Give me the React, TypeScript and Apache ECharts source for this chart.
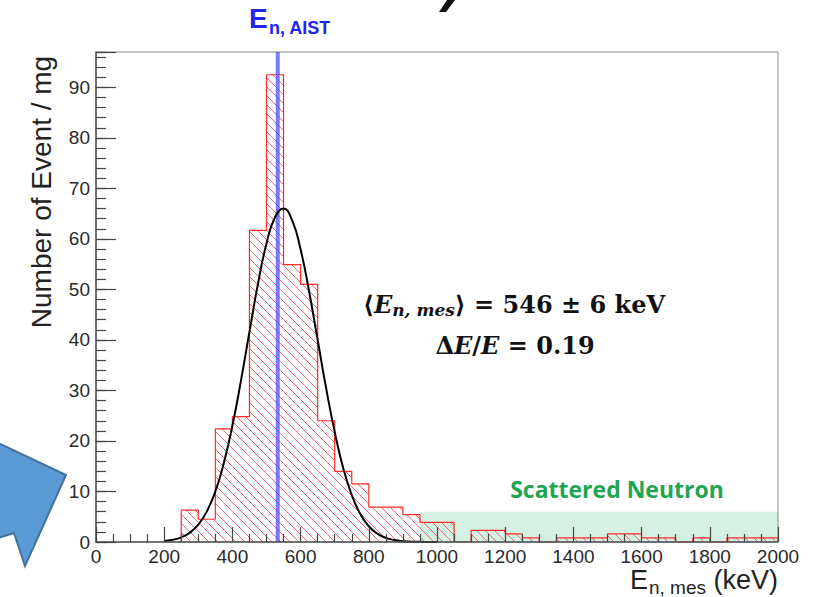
import React, { useEffect, useRef } from "react";
import * as echarts from "echarts";

// Histogram: left edges of 50 keV bins and counts per mg
const binLeftEdges = [
  250, 300, 350, 400, 450, 500, 550, 600, 650, 700, 750, 800, 850, 900, 950,
  1000, 1050, 1100, 1150, 1200, 1250, 1300, 1350, 1400, 1450, 1500, 1550,
  1600, 1650, 1700, 1750, 1800, 1850, 1900, 1950,
];
const binWidth = 50;
const binCounts = [
  6.3, 4.5, 22.4, 24.8, 61.7, 92.5, 54.9, 51.0, 24.0, 14.0, 11.5, 6.9, 6.9,
  5.4, 3.9, 3.9, 0, 2.3, 2.3, 1.6, 0.8, 0, 0.8, 0.8, 0.8, 1.6, 1.6, 0.8, 0.8,
  0, 0.8, 0, 0.8, 0.8, 0.8,
];

// Gaussian fit curve
const fitEnergy = [
  200, 225, 250, 275, 300, 325, 350, 375, 400, 425, 450, 475, 500, 525, 550,
  575, 600, 625, 650, 675, 700, 725, 750, 775, 800, 825, 850, 875, 900, 925,
  950, 975, 1000,
];
const fitValue = [
  0.2, 0.44, 0.93, 1.84, 3.43, 6.04, 10.0, 15.7, 23.0, 31.9, 41.6, 51.1, 59.1,
  64.3, 66.0, 63.7, 57.9, 49.6, 40.0, 30.4, 21.8, 14.6, 9.3, 5.55, 3.12, 1.65,
  0.82, 0.39, 0.17, 0.07, 0.03, 0.01, 0.0,
];

// Reference energy (AIST) and scattered-neutron band
const aistEnergy = 533;
const scatterBandX = [950, 2000];
const scatterBandTop = 6;

// Axes
const xRange = [0, 2000];
const yRange = [0, 97];

export default function App() {
  const ref = useRef<HTMLDivElement>(null);
  useEffect(() => {
    if (!ref.current) return;
    const chart = echarts.init(ref.current, null, { renderer: "svg" });
    const histData = binLeftEdges.map((s, i) => [s, s + binWidth, binCounts[i]]);
    const stepData: number[][] = [[binLeftEdges[0], 0]];
    binLeftEdges.forEach((s, i) => stepData.push([s, binCounts[i]]));
    stepData.push([binLeftEdges[binLeftEdges.length - 1] + binWidth, 0]);

    const sans = "Liberation Sans, Arial, Helvetica, sans-serif";
    const serif = "DejaVu Serif, Liberation Serif, serif";

    const option: any = {
      animation: false,
      grid: {
        left: 96,
        right: 45,
        top: 52,
        bottom: 55,
        show: true,
        borderColor: "#8a8a8a",
        borderWidth: 1,
        backgroundColor: "transparent",
      },
      xAxis: {
        type: "value",
        min: xRange[0],
        max: xRange[1],
        interval: 200,
        z: 10,
        axisLine: { show: true, lineStyle: { color: "#555", width: 1.5 } },
        axisTick: { show: true, inside: true, length: 15, lineStyle: { color: "#444", width: 1.2 } },
        minorTick: { show: true, splitNumber: 4, length: 8, lineStyle: { color: "#444", width: 1.2 } },
        splitLine: { show: false },
        axisLabel: {
          fontSize: 19,
          color: "#2a2a2a",
          fontFamily: sans,
          margin: 5,
          formatter: (v: number) => String(v),
        },
      },
      yAxis: [
        {
          type: "value",
          min: yRange[0],
          max: yRange[1],
          interval: 10,
          offset: 0,
          z: 10,
          axisLine: { show: true, lineStyle: { color: "#555", width: 1.5 } },
          axisTick: { show: true, inside: true, length: 20, lineStyle: { color: "#444", width: 1.2 } },
          splitLine: { show: false },
          axisLabel: {
            fontSize: 19,
            color: "#2a2a2a",
            fontFamily: sans,
            margin: 6,
            formatter: (v: number) => (v % 10 === 0 ? String(v) : ""),
          },
        },
        {
          type: "value",
          min: yRange[0],
          max: yRange[1],
          interval: 2,
          offset: 0,
          position: "left",
          z: 10,
          axisLine: { show: false },
          axisTick: { show: true, inside: true, length: 10, lineStyle: { color: "#444", width: 1.2 } },
          splitLine: { show: false },
          axisLabel: { show: false },
        },
      ],
      series: [
        {
          type: "custom",
          z: 2,
          data: histData,
          encode: { x: [0, 1], y: 2 },
          renderItem: (params: any, api: any) => {
            const x0 = api.value(0);
            const x1 = api.value(1);
            const v = api.value(2);
            if (!v) return null;
            const p0 = api.coord([x0, v]);
            const p1 = api.coord([x1, 0]);
            const left = p0[0], top = p0[1], right = p1[0], bottom = p1[1];
            const step = 9;
            const children: any[] = [];
            const cMin = Math.ceil((top - right) / step) * step;
            for (let c = cMin; c <= bottom - left; c += step) {
              const xs = Math.max(left, top - c);
              const xe = Math.min(right, bottom - c);
              if (xe > xs) {
                children.push({
                  type: "line",
                  shape: { x1: xs, y1: xs + c, x2: xe, y2: xe + c },
                  style: { stroke: "#f06a6a", lineWidth: 1 },
                });
              }
            }
            return { type: "group", children };
          },
        },
        {
          type: "line",
          z: 3,
          data: stepData,
          step: "end",
          symbol: "none",
          lineStyle: { color: "#ff2b2b", width: 1.2 },
          markArea: {
            silent: true,
            itemStyle: { color: "rgba(0,170,90,0.17)" },
            data: [
              [
                { xAxis: scatterBandX[0], yAxis: 0 },
                { xAxis: scatterBandX[1], yAxis: scatterBandTop },
              ],
            ],
          },
        },
        {
          type: "line",
          z: 4,
          data: [
            [aistEnergy, yRange[0]],
            [aistEnergy, yRange[1]],
          ],
          symbol: "none",
          lineStyle: { color: "rgba(70,70,255,0.72)", width: 4 },
        },
        {
          type: "line",
          z: 5,
          data: fitEnergy.map((x, i) => [x, fitValue[i]]),
          smooth: true,
          symbol: "none",
          lineStyle: { color: "#000", width: 2 },
        },
      ],
      graphic: [
        {
          type: "polygon",
          shape: { points: [[-2, 443], [66, 475], [25, 566], [14, 533], [-2, 538]] },
          style: { fill: "#5b9bd5", stroke: "#41719c", lineWidth: 2 },
        },
        {
          type: "polygon",
          shape: { points: [[447, 0], [455, 0], [446, 12], [439, 12]] },
          style: { fill: "#111" },
        },
        {
          type: "text",
          x: 249,
          y: 4,
          style: { text: "E", fontSize: 28, fontWeight: "bold", fontFamily: sans, fill: "#2424ee" },
        },
        {
          type: "text",
          x: 269,
          y: 19,
          style: { text: "n, AIST", fontSize: 18, fontWeight: "bold", fontFamily: sans, fill: "#2424ee" },
        },
        {
          type: "text",
          x: 41,
          y: 192,
          rotation: Math.PI / 2,
          style: {
            text: "Number of Event / mg",
            fontSize: 28,
            fontFamily: sans,
            fill: "#222",
            align: "center",
            verticalAlign: "middle",
          },
        },
        {
          type: "text",
          x: 778,
          y: 580,
          style: {
            text: "{b|E}{s|n, mes}{b| (keV)}",
            align: "right",
            verticalAlign: "middle",
            rich: {
              b: { fontSize: 27, fontFamily: sans, fill: "#222" },
              s: { fontSize: 19, fontFamily: sans, fill: "#222", padding: [14, 0, 0, 1] },
            },
          },
        },
        {
          type: "text",
          x: 514,
          y: 304,
          style: {
            text: "{n|⟨}{i|E}{s|n, mes}{n|⟩ = 546 ± 6 keV}",
            align: "center",
            verticalAlign: "middle",
            rich: {
              n: { fontFamily: serif, fontWeight: "bold", fontSize: 24, fill: "#111" },
              i: { fontFamily: serif, fontWeight: "bold", fontStyle: "italic", fontSize: 24, fill: "#111" },
              s: { fontFamily: serif, fontWeight: "bold", fontStyle: "italic", fontSize: 17, fill: "#111", padding: [12, 0, 0, 0] },
            },
          },
        },
        {
          type: "text",
          x: 515,
          y: 345,
          style: {
            text: "{n|Δ}{i|E}{n|/}{i|E}{n| = 0.19}",
            align: "center",
            verticalAlign: "middle",
            rich: {
              n: { fontFamily: serif, fontWeight: "bold", fontSize: 24, fill: "#111" },
              i: { fontFamily: serif, fontWeight: "bold", fontStyle: "italic", fontSize: 24, fill: "#111" },
            },
          },
        },
        {
          type: "text",
          x: 617,
          y: 489,
          style: {
            text: "Scattered Neutron",
            fontSize: 23,
            fontWeight: "bold",
            fontFamily: "Open Sans, Lato, sans-serif",
            fill: "#1ea552",
            align: "center",
            verticalAlign: "middle",
          },
        },
      ],
    };
    chart.setOption(option);
    return () => chart.dispose();
  }, []);
  return (
    <div
      ref={ref}
      style={{ position: "absolute", left: 0, top: 0, width: 823, height: 597, background: "#fff" }}
    />
  );
}
